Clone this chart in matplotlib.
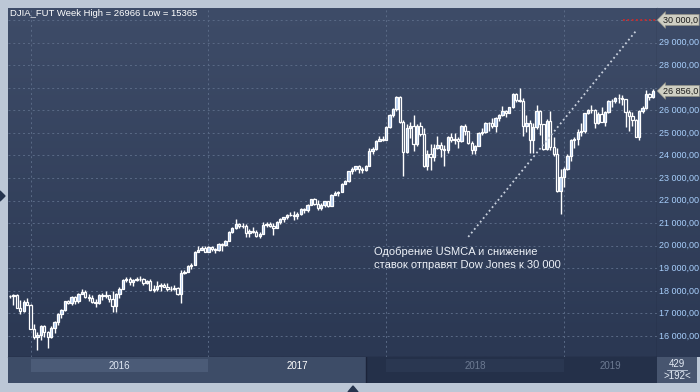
import numpy as np
import matplotlib.pyplot as plt
from matplotlib.colors import LinearSegmentedColormap
from matplotlib.patches import Polygon
from matplotlib.lines import Line2D

plt.rcParams['font.family'] = ['Liberation Sans', 'DejaVu Sans']

# weekly DJIA futures, week index 0 = week of 23 Nov 2015, last = week of 1 Jul 2019
opens = [17760, 17790, 17810, 17240, 17090, 17520, 17390, 16320, 15940, 16060,
         16430, 16170, 15940, 16360, 16600, 16970, 17170, 17550, 17460, 17740,
         17530, 17850, 17950, 17730, 17690, 17490, 17450, 17830, 17770, 17810,
         17630, 17330, 17880, 18100, 18470, 18530, 18390, 18500, 18530, 18510,
         18350, 18440, 18050, 18080, 18200, 18260, 18190, 18090, 18100, 18110,
         17840, 18800, 18830, 19120, 19140, 19730, 19820, 19910, 19730, 19930,
         19850, 19790, 20060, 20040, 20230, 20590, 20790, 20980, 20880, 20890,
         20570, 20630, 20620, 20420, 20520, 20910, 20980, 20870, 20780, 21060,
         21180, 21250, 21360, 21370, 21330, 21390, 21610, 21560, 21810, 22060,
         21830, 21650, 21790, 21960, 21780, 22240, 22330, 22380, 22750, 22850,
         23300, 23400, 23510, 23400, 23340, 23540, 24200, 24300, 24630, 24730,
         24700, 25280, 25780, 26050, 26590, 25500, 24170, 25200, 25290, 24520,
         25310, 24930, 23510, 24080, 23920, 24340, 24440, 24290, 24240, 24810,
         24700, 24730, 24620, 25300, 25070, 24560, 24250, 24430, 25000, 25040,
         25430, 25450, 25300, 25650, 25770, 25950, 25900, 26130, 26720, 26440,
         26430, 25320, 25420, 24670, 25250, 25970, 25400, 24270, 25520, 24370,
         24080, 22420, 23040, 23420, 23980, 24680, 24720, 25050, 25100, 25870,
         26010, 26010, 25440, 25840, 25500, 25920, 26410, 26400, 26540, 26530,
         26490, 25930, 25750, 25570, 24830, 25980, 26090, 26700, 26580]
highs = [17830, 17880, 17850, 17580, 17600, 17700, 17400, 16540, 16160, 16480,
         16500, 16200, 16440, 16660, 17040, 17200, 17570, 17600, 17780, 17790,
         17900, 18100, 18040, 17850, 17800, 17620, 17860, 17900, 18000, 17830,
         18000, 17920, 18150, 18540, 18610, 18600, 18540, 18620, 18650, 18580,
         18500, 18540, 18250, 18420, 18350, 18350, 18350, 18230, 18250, 18170,
         18930, 18930, 19150, 19240, 19780, 19990, 19990, 19970, 19990, 19990,
         19900, 20120, 20100, 20270, 20640, 20830, 21170, 21000, 21000, 20940,
         20740, 20850, 20700, 20620, 21040, 21030, 21030, 21000, 21110, 21230,
         21290, 21400, 21510, 21540, 21490, 21670, 21660, 21860, 22080, 22120,
         22020, 21880, 21990, 22000, 22270, 22420, 22410, 22780, 22900, 23330,
         23480, 23550, 23590, 23500, 23580, 24320, 24370, 24680, 24880, 24850,
         25320, 25820, 26100, 26640, 26640, 25550, 25400, 25460, 25800, 25400,
         25470, 25200, 24240, 24520, 24500, 24860, 24590, 24450, 24870, 24980,
         25000, 24830, 25330, 25400, 25100, 24660, 24470, 25050, 25200, 25500,
         25500, 25650, 25710, 25830, 26180, 26000, 26150, 26750, 26770, 26966,
         26540, 25800, 25550, 25450, 26250, 26000, 25400, 25600, 25980, 24800,
         24350, 23380, 23500, 24060, 24720, 24800, 25170, 25420, 25890, 26050,
         26240, 26040, 25920, 26130, 25950, 26440, 26490, 26600, 26700, 26680,
         26500, 26000, 25910, 25600, 26020, 26200, 26900, 26770, 26930]
lows = [17700, 17380, 17230, 16980, 17060, 17400, 16310, 15850, 15365, 15810,
        15950, 15470, 15920, 16120, 16480, 16780, 17100, 17400, 17370, 17430,
        17470, 17850, 17700, 17570, 17460, 17280, 17400, 17600, 17700, 17500,
        17060, 17050, 17700, 18100, 18400, 18250, 18200, 18420, 18440, 18280,
        18300, 18050, 17940, 18010, 17990, 18150, 18000, 18000, 18050, 17820,
        17450, 18750, 18820, 18970, 19130, 19700, 19830, 19700, 19720, 19760,
        19680, 19780, 19780, 19980, 20200, 20570, 20740, 20800, 20780, 20400,
        20400, 20550, 20370, 20340, 20510, 20820, 20810, 20470, 20770, 20970,
        21060, 21190, 21320, 21150, 21190, 21370, 21460, 21500, 21800, 21820,
        21570, 21560, 21730, 21700, 21780, 22240, 22220, 22370, 22720, 22840,
        23170, 23310, 23240, 23240, 23300, 23510, 24080, 24230, 24620, 24650,
        24690, 25220, 25690, 25950, 25450, 23100, 24100, 24780, 24200, 24430,
        24840, 23470, 23340, 23340, 23760, 24300, 23920, 23540, 24110, 24600,
        24500, 24320, 24590, 24900, 24500, 24060, 24070, 24400, 24900, 24990,
        25100, 25200, 25050, 25520, 25750, 25700, 25890, 26100, 26350, 26380,
        24850, 25030, 24100, 24120, 25170, 24900, 24230, 24240, 24230, 23990,
        22390, 21390, 22600, 23360, 23740, 24310, 24450, 24880, 25000, 25820,
        25890, 25210, 25380, 25490, 25320, 25860, 26150, 26340, 26330, 26240,
        25260, 25100, 25300, 24830, 24680, 25900, 26050, 26450, 26550]
closes = [17790, 17810, 17240, 17090, 17520, 17390, 16320, 15940, 16060, 16430,
          16170, 15940, 16360, 16600, 16970, 17170, 17550, 17460, 17740, 17530,
          17850, 17950, 17730, 17690, 17490, 17450, 17830, 17770, 17810, 17630,
          17330, 17880, 18100, 18470, 18530, 18390, 18500, 18530, 18510, 18350,
          18440, 18050, 18080, 18200, 18260, 18190, 18090, 18100, 18110, 17840,
          18800, 18830, 19120, 19140, 19730, 19820, 19910, 19730, 19930, 19850,
          19790, 20060, 20040, 20230, 20590, 20790, 20980, 20880, 20890, 20570,
          20630, 20620, 20420, 20520, 20910, 20980, 20870, 20780, 21060, 21180,
          21250, 21360, 21370, 21330, 21390, 21610, 21560, 21810, 22060, 21830,
          21650, 21790, 21960, 21780, 22240, 22330, 22380, 22750, 22850, 23300,
          23400, 23510, 23400, 23340, 23540, 24200, 24300, 24630, 24730, 24700,
          25280, 25780, 26050, 26590, 25500, 24170, 25200, 25290, 24520, 25310,
          24930, 23510, 24080, 23920, 24340, 24440, 24290, 24240, 24810, 24700,
          24730, 24620, 25300, 25070, 24560, 24250, 24430, 25000, 25040, 25430,
          25450, 25300, 25650, 25770, 25950, 25900, 26130, 26720, 26440, 26430,
          25320, 25420, 24670, 25250, 25970, 25400, 24270, 25520, 24370, 24080,
          22420, 23040, 23420, 23980, 24680, 24720, 25050, 25100, 25870, 26010,
          26010, 25440, 25840, 25500, 25920, 26410, 26400, 26540, 26530, 26490,
          25930, 25750, 25570, 24830, 25980, 26090, 26700, 26580, 26856]

years = ['2016', '2017', '2018', '2019']
year_start_week = [6, 58, 110, 162]
price_ticks = [16000, 17000, 18000, 19000, 20000, 21000, 22000, 23000, 24000,
               25000, 26000, 28000, 29000]
grid_levels = list(range(16000, 30001, 1000))
target = 30000
last_price = 26856
forecast_weeks = [134, 183.3]
forecast_levels = [20390, 29560]
title = 'DJIA_FUT Week High = 26966 Low = 15365'
note = 'Одобрение USMCA и снижение\nставок отправят Dow Jones к 30 000'

W, H = 700, 392
fig = plt.figure(figsize=(7, 3.92), dpi=100)
fig.patch.set_facecolor('#bcc7d6')


def box(x0, y0, x1, y1):
    return [x0 / W, 1 - y1 / H, (x1 - x0) / W, (y1 - y0) / H]


def fmt(v, dec=2):
    return f'{v:,.{dec}f}'.replace(',', ' ').replace('.', ',')


xlim = (-0.6, 189.2)
ylim = (15070, 30530)
bg = LinearSegmentedColormap.from_list('bg', ['#3e4c68', '#2b3853'])
grad = np.linspace(0, 1, 256).reshape(-1, 1)

ax = fig.add_axes(box(8, 8, 657, 357))
ax.imshow(grad, cmap=bg, extent=[*xlim, *ylim], aspect='auto', origin='upper', zorder=0)
ax.set_xlim(xlim)
ax.set_ylim(ylim)
for v in grid_levels:
    ax.axhline(v, color='#5a6a86', lw=0.7, ls=(0, (2, 3)), zorder=1)
for w in year_start_week:
    ax.axvline(w, color='#5a6a86', lw=0.7, ls=(0, (2, 3)), zorder=1)

o = np.array(opens)
c = np.array(closes)
x = np.arange(len(c))
up = c >= o
ax.vlines(x, lows, highs, color='white', lw=1.0, zorder=2)
ax.bar(x, c - o, bottom=o, width=0.68, color=np.where(up, '#b4cdf0', '#34425e'),
       edgecolor='white', lw=0.9, zorder=3)

ax.plot(forecast_weeks, forecast_levels, color='#c9d1de', ls=(0, (1, 1.6)), lw=1.3, zorder=4)
ax.plot([179.2, xlim[1]], [target, target], color='#d02828', ls=(0, (1, 1.4)), lw=1.3, zorder=4)

ax.text(106.4, 19450, note, color='#eef2f8', fontsize=8, linespacing=1.45,
        va='center', ha='left', zorder=5)

ax.set_xticks([])
ax.set_yticks([])
for s in ['top', 'left']:
    ax.spines[s].set_visible(False)
ax.spines['right'].set_color('black')
ax.spines['bottom'].set_color('black')

fig.text(10 / W, 1 - 13 / H, title, color='white', fontsize=6.8, va='center')

# right price scale
rax = fig.add_axes(box(657, 8, 700, 357))
rax.imshow(grad, cmap=bg, extent=[0, 1, *ylim], aspect='auto', origin='upper', zorder=0)
rax.set_xlim(0, 1)
rax.set_ylim(ylim)
rax.axis('off')
tr = rax.get_yaxis_transform()
for v in price_ticks:
    rax.text(0.05, v, fmt(v), transform=tr, color='#a8cffc', fontsize=6.5, va='center')
for v, label in [(target, fmt(target, 1)), (last_price, fmt(last_price, 1))]:
    rax.text(0.14, v, label, transform=tr, color='#1c1c1c', fontsize=6.5, va='center',
             bbox=dict(boxstyle='larrow,pad=0.12', fc='#cfcfc3', ec='#8d8d84', lw=0.5))

# bottom time bar
bax = fig.add_axes(box(8, 357, 657, 383))
bax.set_xlim(xlim)
bax.set_ylim(0, 1)
bax.set_facecolor('#243049')
bax.axvspan(xlim[0], 104.1, color='#3d4c67', lw=0)
bax.axvspan(year_start_week[0], year_start_week[1], 0.42, 0.92, color='#4b5b77', lw=0)
bax.axvspan(year_start_week[2], year_start_week[3], 0.42, 0.92, color='#2a3751', lw=0)
bax.axvline(104.1, color='#1b2339', lw=1)
ends = year_start_week[1:] + [x[-1] + 1]
colors = ['#dfe7f3', '#ffffff', '#6c7a92', '#6c7a92']
for yr, s, e, col in zip(years, year_start_week, ends, colors):
    bax.text((s + e) / 2, 0.66, yr, color=col, fontsize=7, ha='center', va='center')
bax.set_xticks([])
bax.set_yticks([])
for s in bax.spines.values():
    s.set_visible(False)

cax = fig.add_axes(box(657, 357, 697, 383))
cax.set_facecolor('#47556f')
cax.set_xlim(0, 1)
cax.set_ylim(0, 1)
cax.text(0.5, 0.74, '429', color='#e4ebf5', fontsize=7, ha='center', va='center')
cax.text(0.5, 0.28, '>192<', color='#e4ebf5', fontsize=7, ha='center', va='center')
cax.add_line(Line2D([0.25, 0.75], [0.5, 0.5], color='#c8d2e0', lw=0.6))
cax.set_xticks([])
cax.set_yticks([])
for s in cax.spines.values():
    s.set_visible(False)

# little scroll markers on the frame
fig.add_artist(Polygon([(0, 1 - 191 / H), (5 / W, 1 - 196 / H), (0, 1 - 201 / H)],
                       closed=True, color='#26344e', transform=fig.transFigure))
fig.add_artist(Polygon([(348 / W, 0), (353 / W, 6 / H), (358 / W, 0)],
                       closed=True, color='#26344e', transform=fig.transFigure))

fig.savefig('out.png', dpi=100, facecolor=fig.get_facecolor())
